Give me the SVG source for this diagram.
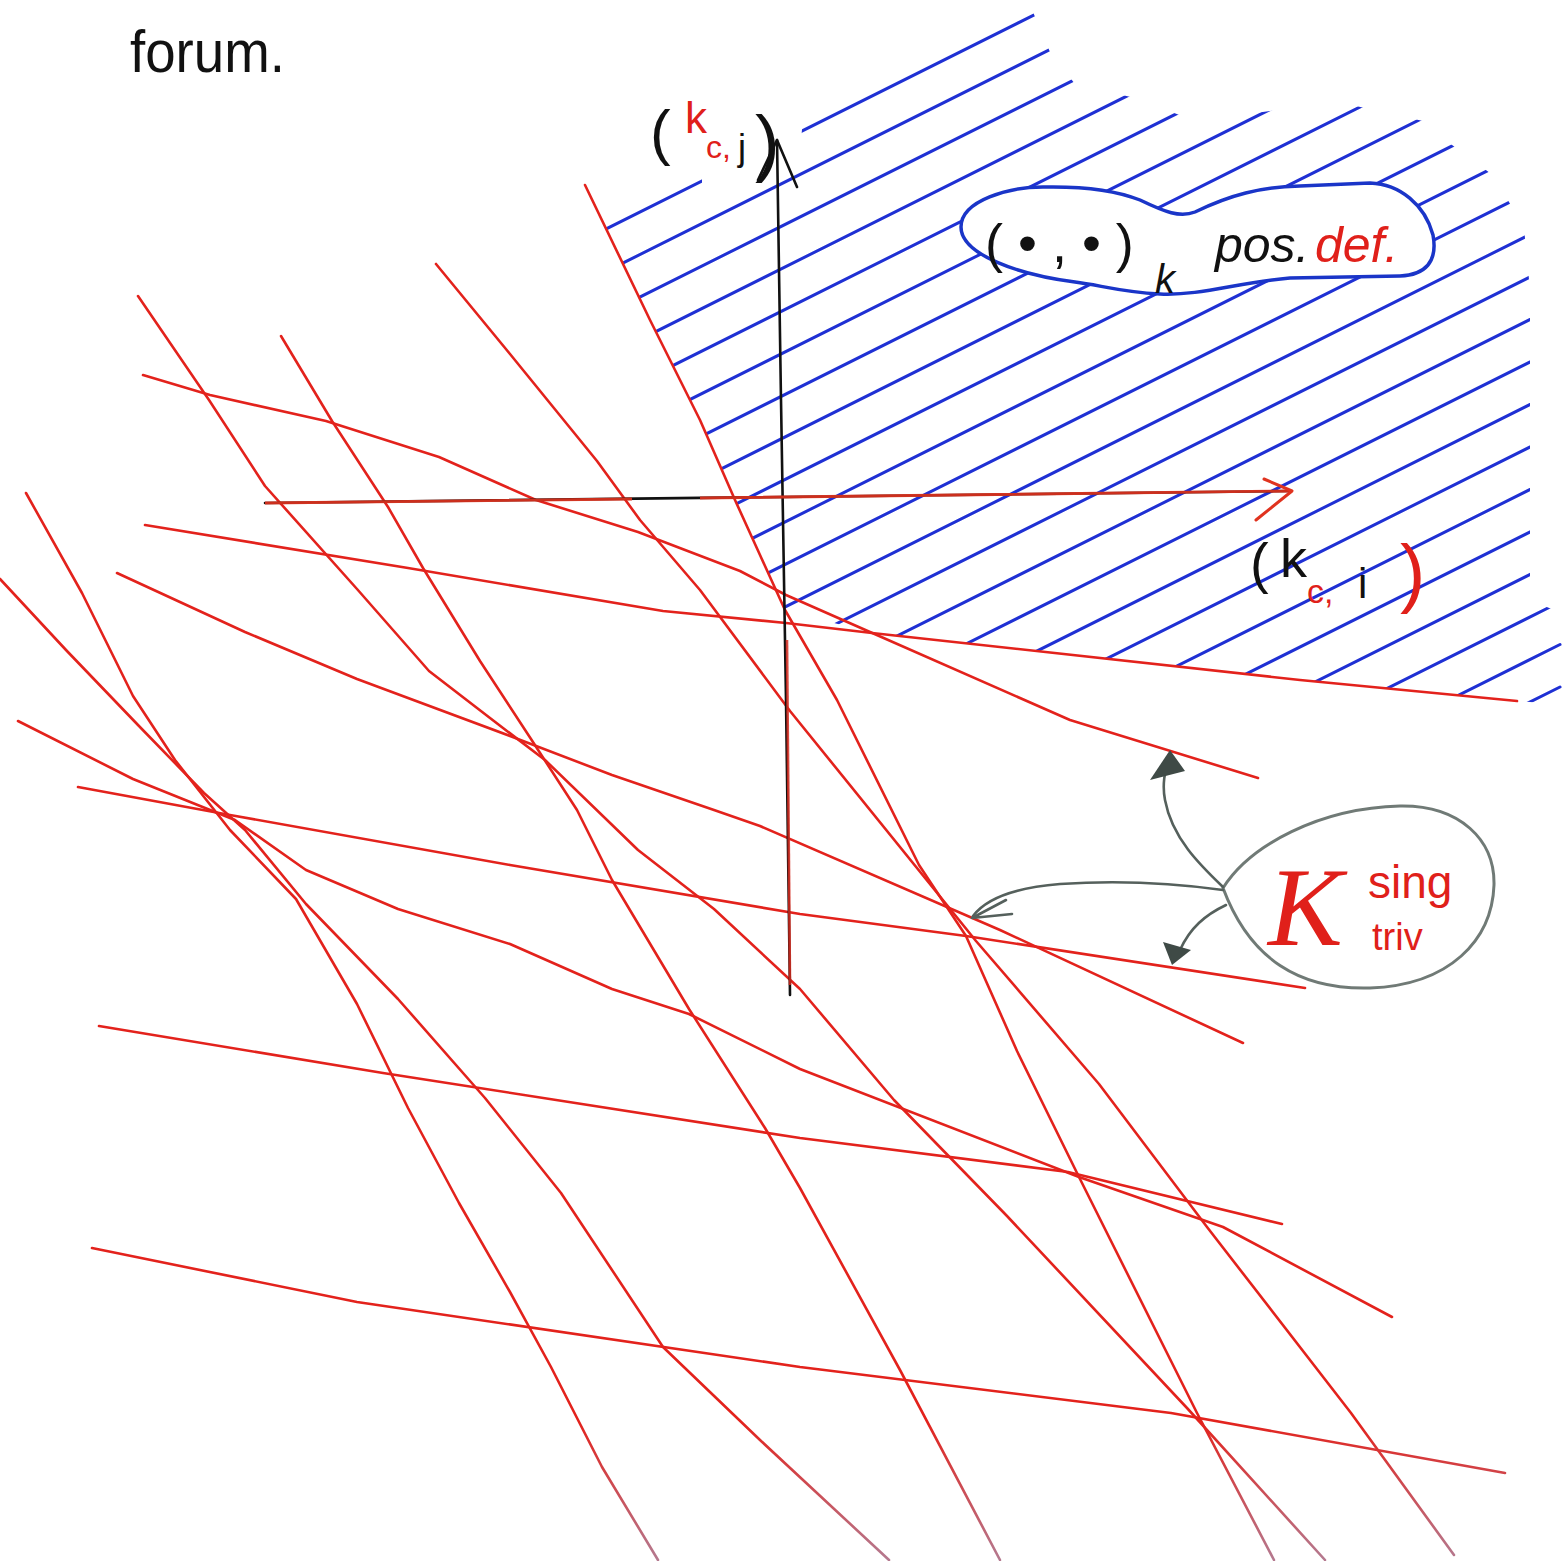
<svg xmlns="http://www.w3.org/2000/svg" width="1566" height="1561" viewBox="0 0 1566 1561">
<defs>
<style>
.red{fill:none;stroke:url(#fade);stroke-width:2.6;stroke-linejoin:round;stroke-linecap:round}
.hatch{fill:none;stroke:#1f30d4;stroke-width:3;stroke-linecap:round}
.ax{fill:none;stroke:#111;stroke-width:2.6;stroke-linecap:round;stroke-linejoin:round}
.gr{fill:none;stroke:#55605c;stroke-width:2.6;stroke-linecap:round}
.hw{font-family:"Liberation Sans",Arial,sans-serif}
.blk{fill:#111}
.rd{fill:#e0201a}
</style>
<linearGradient id="fade" gradientUnits="userSpaceOnUse" x1="0" y1="1420" x2="0" y2="1561">
<stop offset="0" stop-color="#e3221c"/>
<stop offset="1" stop-color="#b47a90"/>
</linearGradient>
<clipPath id="region">
<path d="M578,165 L702,165 L702,200 L800,152 L803,118 L1030,5 L1050,52 L1075,84 L1135,98 L1195,121 L1338,102 L1423,121 L1448,142 L1494,176 L1524,228 L1530,290 L1530,600 L1566,615 L1566,705 L1517,701 L1300,680 L872,633 L785,610 L760,555 L735,500 L700,420 L650,320 L585,185 Z"/>
</clipPath>
</defs>
<rect width="1566" height="1561" fill="#fff"/>

<text class="hw blk" x="130" y="72" font-size="60" textLength="155" lengthAdjust="spacingAndGlyphs">forum.</text>

<g id="hatch" clip-path="url(#region)">
<path class="hatch" d="M560,252 L1560,-248 M560,294.5 L1560,-205.5 M560,337 L1560,-163 M560,379.5 L1560,-120.5 M560,422 L1560,-78 M560,464.5 L1560,-35.5 M560,507 L1560,7 M560,549.5 L1560,49.5 M560,592 L1560,92 M560,634.5 L1560,134.5 M560,677 L1560,177 M560,719.5 L1560,219.5 M560,762 L1560,262 M560,804.5 L1560,304.5 M560,847 L1560,347 M560,889.5 L1560,389.5 M560,932 L1560,432 M560,974.5 L1560,474.5 M560,1017 L1560,517 M560,1059.5 L1560,559.5 M560,1102 L1560,602 M560,1144.5 L1560,644.5 M560,1187 L1560,687"/>
</g>

<g id="ellipse-posdef">
<path d="M961,227 C961,200 1010,187 1043,187 C1090,186 1120,192 1140,200 C1165,212 1180,218 1195,212 C1230,195 1260,187 1300,186 L1370,183 C1400,184 1425,205 1433,235 C1438,262 1425,275 1400,276 L1290,278 C1240,282 1200,296 1160,294 C1120,292 1100,285 1075,282 C1020,275 961,255 961,227 Z" fill="#fff" stroke="#1a35c8" stroke-width="3.5"/>
<text class="hw blk" x="985" y="262" font-size="54">( • , • )</text>
<text class="hw blk" x="1155" y="293" font-size="40" font-style="italic">k</text>
<text class="hw blk" x="1215" y="262" font-size="50" font-style="italic">pos.</text>
<text class="hw rd" x="1315" y="262" font-size="50" font-style="italic">def.</text>
</g>

<g id="red-lines">
<polyline class="red" points="585,185 650,320 700,420 735,500 760,555 785,610 837,700 919,865 966,936 1017,1051 1079,1177 1197,1413 1274,1560"/>
<polyline class="red" points="436,264 510,354 597,461 640,520 700,590 790,711 976,941 1099,1084 1207,1227 1351,1413 1454,1555"/>
<polyline class="red" points="138,296 209,400 265,486 357,589 429,671 490,718 545,760 638,850 714,909 800,989 894,1100 1007,1216 1187,1408 1325,1560"/>
<polyline class="red" points="281,336 332,421 388,507 423,568 480,661 531,739 577,810 612,880 689,1009 765,1128 800,1188 900,1370 1000,1560"/>
<polyline class="red" points="26,493 82,593 133,696 175,760 230,830 296,899 357,1004 408,1108 459,1203 510,1292 551,1367 602,1467 658,1560"/>
<polyline class="red" points="0,579 66,650 138,725 204,793 245,830 306,904 398,999 485,1098 561,1193 663,1347 760,1440 889,1560"/>
<polyline class="red" points="143,375 210,395 326,421 439,457 536,500 638,532 740,571 786,595 870,632 1070,720 1258,778"/>
<polyline class="red" points="145,525 408,568 663,611 786,623 872,633 1300,680 1517,701"/>
<polyline class="red" points="117,573 245,632 357,679 510,736 612,775 714,810 760,826 1000,930 1243,1043"/>
<polyline class="red" points="18,721 133,779 235,820 306,870 398,909 510,944 612,989 689,1014 800,1069 1079,1177 1223,1227 1392,1317"/>
<polyline class="red" points="78,787 230,815 510,865 800,914 966,936 1305,988"/>
<polyline class="red" points="99,1026 383,1073 800,1138 1068,1172 1282,1224"/>
<polyline class="red" points="92,1248 357,1302 800,1367 1171,1413 1505,1473"/>
</g>

<g id="axes">
<path class="ax" d="M790,995 L786,700 L781,400 L777,140"/>
<path class="ax" d="M758,180 L777,140 L797,187"/>
<path d="M787,640 L790,985" fill="none" stroke="#d42a1e" stroke-width="2.6" opacity="0.85"/>
<path class="ax" d="M265,503 L1290,491"/>
<path d="M265,503 L632,499 M700,498 L1290,491" fill="none" stroke="#e0331f" stroke-width="2.8" opacity="0.9"/>
<path d="M1264,479 L1292,491 L1256,520" fill="none" stroke="#e0331f" stroke-width="3" stroke-linecap="round" stroke-linejoin="round"/>
</g>

<g id="label-vertical">
<text class="hw blk" x="650" y="153" font-size="62">(</text>
<text class="hw rd" x="685" y="133" font-size="44">k</text>
<text class="hw rd" x="706" y="158" font-size="32">c,</text>
<text class="hw blk" x="738" y="160" font-size="36">j</text>
<text class="hw blk" x="755" y="168" font-size="74">)</text>
</g>

<g id="label-horizontal">
<text class="hw blk" x="1250" y="582" font-size="56">(</text>
<text class="hw blk" x="1280" y="577" font-size="54">k</text>
<text class="hw rd" x="1307" y="603" font-size="34">c,</text>
<text class="hw blk" x="1358" y="598" font-size="42">i</text>
<text class="hw rd" x="1400" y="598" font-size="76">)</text>
</g>

<g id="k-sing">
<path d="M1223,888 C1250,845 1320,808 1400,806 C1460,805 1495,840 1494,885 C1492,940 1450,985 1370,988 C1300,990 1250,960 1223,888 Z" fill="none" stroke="#707a76" stroke-width="3"/>
<text x="1268" y="945" font-size="112" font-style="italic" fill="#e0201a" font-family="Liberation Serif, serif">K</text>
<text class="hw rd" x="1368" y="898" font-size="46">sing</text>
<text class="hw rd" x="1372" y="950" font-size="38">triv</text>
</g>

<g id="connectors">
<path class="gr" d="M1223,887 C1200,865 1172,838 1165,800 C1162,785 1165,770 1168,762"/>
<polygon points="1170,750 1150,780 1185,771" fill="#3f4a46"/>
<path class="gr" d="M1223,890 C1180,884 1120,880 1060,884 C1010,888 985,900 973,916"/>
<path class="gr" d="M1006,900 L972,918 L1012,914" stroke-linejoin="round"/>
<path class="gr" d="M1226,905 C1205,915 1190,928 1180,950"/>
<polygon points="1172,965 1163,942 1191,950" fill="#3f4a46"/>
</g>
</svg>
